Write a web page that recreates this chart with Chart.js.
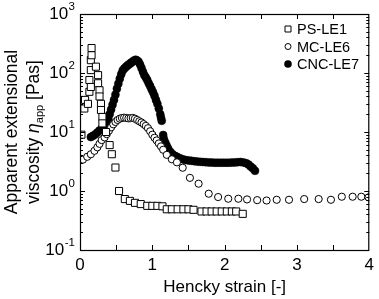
<!DOCTYPE html>
<html>
<head>
<meta charset="utf-8">
<script src="https://cdn.jsdelivr.net/npm/chart.js@4.4.0/dist/chart.umd.min.js"></script>
<style>
  html, body { margin: 0; padding: 0; background: #fff; }
</style>
</head>
<body>
<canvas id="c" width="379" height="299"></canvas>
<script>
// Hencky strain vs apparent extensional viscosity
const psLE1 = [
  [0.02, 9], [0.06, 25], [0.07, 35], [0.11, 30], [0.13, 48], [0.13, 76],
  [0.15, 58], [0.15, 112], [0.15, 165], [0.16, 265], [0.16, 200],
  [0.22, 128], [0.25, 92], [0.25, 67], [0.27, 51], [0.27, 40], [0.29, 30],
  [0.29, 23.6], [0.31, 18], [0.31, 14], [0.36, 10], [0.41, 6.0], [0.44, 4.2],
  [0.49, 2.5], [0.54, 1.0], [0.62, 0.73], [0.69, 0.68], [0.76, 0.63],
  [0.84, 0.6], [0.93, 0.56], [1.0, 0.56], [1.07, 0.56], [1.14, 0.55],
  [1.2, 0.49], [1.27, 0.49], [1.35, 0.49], [1.43, 0.49], [1.5, 0.49],
  [1.57, 0.48], [1.68, 0.45], [1.75, 0.45], [1.82, 0.45], [1.89, 0.45],
  [1.96, 0.45], [2.03, 0.45], [2.1, 0.45], [2.16, 0.45], [2.25, 0.41]
]

const mcLE6 = [
  [0.04, 3.4], [0.10, 3.8], [0.15, 4.2], [0.20, 4.8], [0.24, 5.5], [0.27, 6.3],
  [0.30, 7.3], [0.34, 8.1], [0.37, 9.2], [0.40, 10.5], [0.43, 12], [0.46, 13.5],
  [0.49, 14.8], [0.52, 16], [0.55, 16.8], [0.58, 17.3], [0.61, 17.5],
  [0.64, 17.3], [0.67, 17], [0.70, 17.2], [0.73, 17.3], [0.76, 16.8],
  [0.79, 16], [0.82, 15.2], [0.85, 14.5], [0.88, 13.6], [0.91, 12.7],
  [0.94, 11.6], [0.97, 10.3], [1.0, 9], [1.03, 8], [1.06, 7.2], [1.09, 6.4],
  [1.12, 5.7], [1.15, 5.0], [1.2, 4.1], [1.27, 3.45], [1.34, 3.06],
  [1.42, 2.48], [1.52, 1.67], [1.64, 1.33], [1.78, 0.9], [1.91, 0.79],
  [2.05, 0.74], [2.19, 0.74], [2.31, 0.72], [2.45, 0.7], [2.58, 0.69],
  [2.72, 0.71], [2.89, 0.71], [3.1, 0.73], [3.3, 0.73], [3.47, 0.71],
  [3.62, 0.8], [3.77, 0.8], [3.89, 0.8], [3.99, 0.78]
]

const cncLE7 = [
  [0.15, 8.2], [0.18, 8.6], [0.21, 9.1], [0.24, 9.8], [0.27, 10.6], [0.30, 11.5],
  [0.33, 12.8], [0.36, 14.5], [0.39, 17], [0.41, 20], [0.43, 24], [0.45, 29],
  [0.47, 35], [0.49, 43], [0.51, 54], [0.53, 66], [0.55, 80], [0.57, 95],
  [0.59, 110], [0.61, 118], [0.63, 125], [0.65, 132], [0.67, 138], [0.69, 144],
  [0.71, 150], [0.73, 156], [0.75, 163], [0.77, 168], [0.79, 163], [0.81, 155],
  [0.83, 140], [0.85, 122], [0.87, 105], [0.89, 92], [0.91, 84], [0.93, 76],
  [0.95, 67], [0.97, 60], [0.99, 53], [1.01, 47], [1.03, 41], [1.05, 35],
  [1.07, 30], [1.09, 25], [1.11, 20], [1.12, 17.5], [1.13, 15.5],
  [1.15, 8.9], [1.16, 7.6], [1.18, 6.6], [1.2, 5.8], [1.22, 5.2], [1.25, 4.6],
  [1.28, 4.2], [1.31, 3.95], [1.34, 3.8], [1.38, 3.6], [1.42, 3.45], [1.46, 3.35],
  [1.5, 3.3], [1.54, 3.25], [1.58, 3.2], [1.62, 3.15], [1.66, 3.12], [1.7, 3.1],
  [1.74, 3.08], [1.78, 3.05], [1.82, 3.04], [1.86, 3.02], [1.9, 3.02],
  [1.94, 3.02], [1.98, 3.02], [2.02, 3.02], [2.06, 3.02], [2.1, 3.03],
  [2.14, 3.05], [2.18, 3.08], [2.22, 3.1], [2.26, 3.05], [2.3, 2.95],
  [2.33, 2.8], [2.36, 2.6], [2.39, 2.42], [2.42, 2.2]
]

const seriesNames = ["PS-LE1", "MC-LE6", "CNC-LE7"]
const yDecades = [0.1, 1, 10, 100, 1000]
const yExponents = ["-1", "0", "1", "2", "3"]
const xTickStep = 0.5

const FONT = '"Liberation Sans", Arial, sans-serif'

const toPoints = arr => arr.map(([x, y]) => ({ x, y }))

// frame, inward ticks, superscript y labels, y title and legend
const decorPlugin = {
  id: "decor",
  afterDraw(chart) {
    const { ctx, chartArea: a } = chart
    const xs = chart.scales.x
    const ys = chart.scales.y
    ctx.save()
    ctx.strokeStyle = "#000"
    ctx.lineWidth = 1.2
    ctx.strokeRect(a.left + 0.5, a.top + 0.5, a.right - a.left - 1, a.bottom - a.top)

    ctx.lineWidth = 1
    ctx.beginPath()
    for (let v = xTickStep; v < xs.max; v += xTickStep) {
      const px = Math.round(xs.getPixelForValue(v)) + 0.5
      ctx.moveTo(px, a.bottom); ctx.lineTo(px, a.bottom - 5)
      ctx.moveTo(px, a.top); ctx.lineTo(px, a.top + 5)
    }
    yDecades.slice(0, -1).forEach(d => {
      for (let k = 1; k <= 9; k++) {
        const v = d * k
        if (k === 1 && d === yDecades[0]) continue
        const py = Math.round(ys.getPixelForValue(v)) + 0.5
        const len = k === 1 ? 5 : 3
        ctx.moveTo(a.left, py); ctx.lineTo(a.left + len, py)
        ctx.moveTo(a.right, py); ctx.lineTo(a.right - len, py)
      }
    })
    ctx.stroke()

    // y tick labels 10^n
    ctx.fillStyle = "#000"
    ctx.textBaseline = "middle"
    yDecades.forEach((d, i) => {
      const py = ys.getPixelForValue(d)
      ctx.font = "11.5px " + FONT
      const ew = ctx.measureText(yExponents[i]).width
      const right = a.left - 5
      ctx.textAlign = "left"
      ctx.fillText(yExponents[i], right - ew, py - 7)
      ctx.font = "17px " + FONT
      ctx.textAlign = "right"
      ctx.fillText("10", right - ew - 0.5, py)
    })

    // y axis title, two lines
    const cy = (a.top + a.bottom) / 2
    ctx.save()
    ctx.translate(17, cy)
    ctx.rotate(-Math.PI / 2)
    ctx.textBaseline = "alphabetic"
    ctx.textAlign = "center"
    ctx.font = "17.5px " + FONT
    ctx.fillText("Apparent extensional", 0, 0)
    ctx.restore()

    const parts = [
      { t: "viscosity ", f: "17.5px " + FONT, dy: 0 },
      { t: "\u03b7", f: "italic 17.5px " + FONT, dy: 0 },
      { t: "app", f: "11px " + FONT, dy: 3.5 },
      { t: " [Pas]", f: "17.5px " + FONT, dy: 0 }
    ]
    let total = 0
    parts.forEach(p => { ctx.font = p.f; p.w = ctx.measureText(p.t).width; total += p.w })
    ctx.save()
    ctx.translate(39, cy)
    ctx.rotate(-Math.PI / 2)
    ctx.textBaseline = "alphabetic"
    ctx.textAlign = "left"
    let cx = -total / 2
    parts.forEach(p => { ctx.font = p.f; ctx.fillText(p.t, cx, p.dy); cx += p.w })
    ctx.restore()

    // legend
    const lx = 288, tx = 297
    const rows = [29, 46.5, 64]
    ctx.font = "14.5px " + FONT
    ctx.textAlign = "left"
    ctx.textBaseline = "middle"
    ctx.lineWidth = 1
    seriesNames.forEach((name, i) => {
      const ly = rows[i]
      ctx.beginPath()
      if (i === 0) {
        ctx.rect(lx - 3, ly - 3, 6, 6)
        ctx.stroke()
      } else if (i === 1) {
        ctx.arc(lx, ly, 3, 0, Math.PI * 2)
        ctx.stroke()
      } else {
        ctx.arc(lx, ly, 3.8, 0, Math.PI * 2)
        ctx.fill()
      }
      ctx.fillText(name, tx, ly + 1)
    })
    ctx.restore()
  }
}

new Chart(document.getElementById("c"), {
  type: "scatter",
  data: {
    datasets: [
      {
        label: seriesNames[0],
        data: toPoints(psLE1),
        pointStyle: "rect",
        pointRadius: 5,
        borderWidth: 1,
        borderColor: "#000",
        backgroundColor: "#fff"
      },
      {
        label: seriesNames[1],
        data: toPoints(mcLE6),
        pointStyle: "circle",
        pointRadius: 3.6,
        borderWidth: 1,
        borderColor: "#000",
        backgroundColor: "#fff"
      },
      {
        label: seriesNames[2],
        data: toPoints(cncLE7),
        pointStyle: "circle",
        pointRadius: 4,
        borderWidth: 0.5,
        borderColor: "#000",
        backgroundColor: "#000"
      }
    ]
  },
  options: {
    responsive: false,
    animation: false,
    events: [],
    layout: { padding: { top: 14, right: 6, left: 0, bottom: 0 } },
    plugins: {
      legend: { display: false },
      tooltip: { enabled: false }
    },
    scales: {
      x: {
        type: "linear",
        min: 0,
        max: 4,
        grid: { display: false, drawTicks: false },
        border: { display: false },
        ticks: {
          stepSize: 1,
          padding: 5,
          maxRotation: 0,
          color: "#000",
          font: { family: FONT, size: 17 }
        },
        title: {
          display: true,
          text: "Hencky strain [-]",
          color: "#000",
          font: { family: FONT, size: 17 },
          padding: { top: 0, bottom: 1 }
        },
        afterFit(scale) { scale.height = 49 }
      },
      y: {
        type: "logarithmic",
        min: 0.1,
        max: 1000,
        grid: { display: false, drawTicks: false },
        border: { display: false },
        ticks: { display: false },
        afterFit(scale) { scale.width = 80 }
      }
    }
  },
  plugins: [decorPlugin]
})
</script>
</body>
</html>
